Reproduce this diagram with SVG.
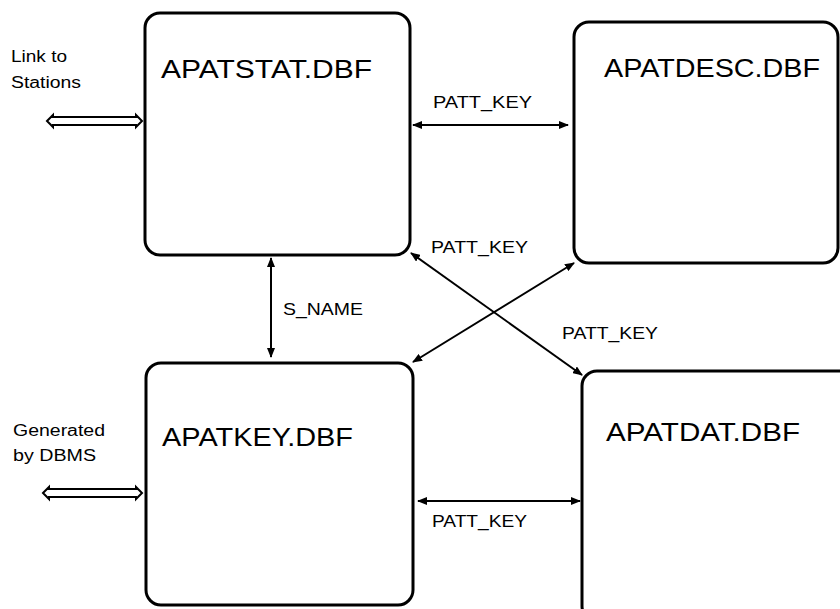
<svg xmlns="http://www.w3.org/2000/svg" width="840" height="609" viewBox="0 0 840 609">
  <style>
    .box { fill: #fff; stroke: #000; stroke-width: 3; }
    .title { font-family: "Liberation Sans", Arial, sans-serif; font-size: 25px; fill: #000; }
    .lbl { font-family: "Liberation Sans", Arial, sans-serif; font-size: 17px; fill: #000; }
    .side { font-family: "Liberation Sans", Arial, sans-serif; font-size: 16px; fill: #000; }
    .link { fill: none; stroke: #000; stroke-width: 2; marker-start: url(#tip); marker-end: url(#tip); }
    .hollow { fill: #fff; stroke: #000; stroke-width: 2; stroke-linejoin: miter; }
  </style>
  <defs>
    <marker id="tip" viewBox="0 0 10 8" refX="9" refY="4" markerWidth="5" markerHeight="4" orient="auto-start-reverse">
      <path d="M0,0 L10,4 L0,8 z" fill="#000"/>
    </marker>
  </defs>
  <rect width="840" height="609" fill="#fff"/>

  <g id="connectors">
    <line class="link" x1="413" y1="125" x2="568" y2="125"/>
    <line class="link" x1="271" y1="258" x2="271" y2="357"/>
    <line class="link" x1="411" y1="253" x2="582" y2="375"/>
    <line class="link" x1="574" y1="263" x2="413" y2="362"/>
    <line class="link" x1="418" y1="501" x2="580" y2="501"/>
    <text class="lbl" x="433" y="108" textLength="99" lengthAdjust="spacingAndGlyphs">PATT_KEY</text>
    <text class="lbl" x="283" y="315" textLength="80" lengthAdjust="spacingAndGlyphs">S_NAME</text>
    <text class="lbl" x="431" y="253" textLength="97" lengthAdjust="spacingAndGlyphs">PATT_KEY</text>
    <text class="lbl" x="562" y="339" textLength="96" lengthAdjust="spacingAndGlyphs">PATT_KEY</text>
    <text class="lbl" x="432" y="527" textLength="95" lengthAdjust="spacingAndGlyphs">PATT_KEY</text>
  </g>

  <g id="link-stations">
    <polygon class="hollow" points="47,121 53,115 53,117 136,117 136,115 142,121 136,127 136,125 53,125 53,127"/>
    <text class="side" x="11" y="62" textLength="56" lengthAdjust="spacingAndGlyphs">Link to</text>
    <text class="side" x="11" y="88" textLength="70" lengthAdjust="spacingAndGlyphs">Stations</text>
  </g>

  <g id="generated-dbms">
    <polygon class="hollow" points="43,493 49,487 49,489 136,489 136,487 142,493 136,499 136,497 49,497 49,499"/>
    <text class="side" x="13" y="436" textLength="92" lengthAdjust="spacingAndGlyphs">Generated</text>
    <text class="side" x="13" y="461" textLength="83" lengthAdjust="spacingAndGlyphs">by DBMS</text>
  </g>

  <g id="apatstat">
    <rect class="box" x="145" y="13" width="265" height="242" rx="15" ry="15"/>
    <text class="title" x="161" y="78" textLength="211" lengthAdjust="spacingAndGlyphs">APATSTAT.DBF</text>
  </g>

  <g id="apatdesc">
    <rect class="box" x="574" y="22" width="264" height="241" rx="15" ry="15"/>
    <text class="title" x="604" y="77" textLength="216" lengthAdjust="spacingAndGlyphs">APATDESC.DBF</text>
  </g>

  <g id="apatkey">
    <rect class="box" x="146" y="363" width="267" height="242" rx="15" ry="15"/>
    <text class="title" x="162" y="446" textLength="191" lengthAdjust="spacingAndGlyphs">APATKEY.DBF</text>
  </g>

  <g id="apatdat">
    <rect class="box" x="582" y="371" width="272" height="250" rx="15" ry="15"/>
    <text class="title" x="606" y="441" textLength="194" lengthAdjust="spacingAndGlyphs">APATDAT.DBF</text>
  </g>
</svg>
